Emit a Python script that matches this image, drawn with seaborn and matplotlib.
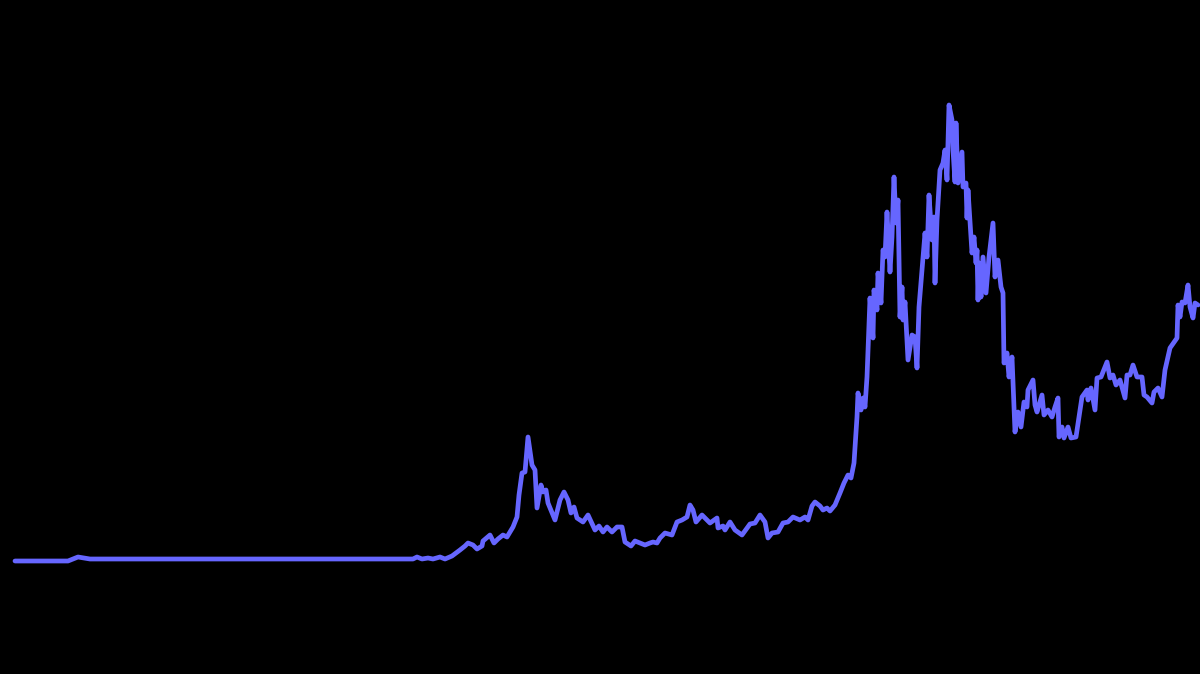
import matplotlib
matplotlib.use('Agg')
import matplotlib.pyplot as plt
import seaborn as sns
import pandas as pd

# time axis (arbitrary steps) and price level
t = [15, 68, 78, 90, 200, 300, 413, 417, 422, 428, 433, 440, 445, 452, 460, 465,
     468, 473, 477, 482, 483, 490, 494, 498, 503, 507, 513, 517, 519, 522, 525, 528,
     532, 535, 537, 541, 543, 546, 548, 555, 560, 564, 568, 571, 574, 577, 583, 588,
     595, 599, 603, 607, 612, 617, 622, 625, 631, 635, 640, 645, 650, 653, 657, 660,
     665, 672, 677, 682, 687, 690, 693, 696, 702, 710, 717, 718, 723, 725, 730, 735,
     742, 750, 755, 760, 765, 768, 772, 778, 783, 788, 793, 800, 805, 808, 812, 815,
     820, 823, 827, 830, 835, 840, 844, 848, 851, 854, 857, 858, 861, 863, 865, 867,
     870, 873, 874, 877, 878, 881, 883, 885, 887, 890, 892, 894, 896, 898, 900, 902,
     903, 905, 908, 912, 915, 917, 919, 922, 925, 927, 929, 932, 934, 935, 937, 940,
     943, 945, 947, 949, 952, 953, 955, 956, 958, 962, 963, 966, 967, 968, 972, 974,
     976, 977, 978, 979, 981, 983, 986, 989, 993, 995, 998, 1001, 1003, 1004, 1007, 1009,
     1012, 1015, 1018, 1021, 1024, 1027, 1028, 1033, 1035, 1037, 1042, 1044, 1048, 1052, 1055, 1058,
     1059, 1062, 1064, 1068, 1071, 1076, 1082, 1087, 1088, 1091, 1095, 1097, 1101, 1107, 1110, 1113,
     1116, 1120, 1125, 1127, 1130, 1133, 1137, 1142, 1144, 1147, 1152, 1154, 1158, 1162, 1165, 1170,
     1177, 1178, 1180, 1182, 1185, 1188, 1190, 1193, 1195, 1198]

price = [0, 0, 4, 2, 2, 2, 2, 4, 2, 3, 2, 4, 2, 5, 11, 15,
         18, 16, 12, 15, 20, 26, 18, 22, 26, 24, 34, 44, 66, 88, 89, 124,
         96, 91, 53, 76, 69, 71, 58, 41, 61, 69, 61, 48, 54, 43, 39, 46,
         31, 35, 29, 34, 29, 34, 34, 19, 15, 20, 18, 16, 18, 19, 18, 23,
         28, 26, 39, 41, 44, 56, 51, 39, 46, 38, 43, 33, 35, 31, 39, 31,
         26, 37, 38, 46, 39, 23, 28, 29, 38, 39, 44, 41, 44, 41, 55, 59,
         55, 51, 53, 50, 56, 68, 78, 86, 83, 98, 144, 168, 151, 163, 154, 184,
         263, 223, 271, 251, 288, 258, 311, 304, 349, 289, 324, 384, 338, 361, 244, 274,
         241, 259, 201, 226, 224, 193, 254, 291, 328, 304, 366, 321, 344, 278, 341, 391,
         398, 411, 381, 456, 441, 411, 379, 438, 378, 409, 374, 378, 343, 371, 308, 324,
         298, 311, 261, 298, 264, 304, 268, 304, 338, 284, 301, 274, 268, 198, 208, 184,
         204, 129, 149, 134, 159, 154, 171, 181, 156, 149, 166, 146, 151, 144, 154, 163,
         124, 134, 123, 134, 123, 124, 164, 171, 161, 173, 151, 183, 184, 199, 183, 186,
         176, 181, 163, 186, 186, 196, 184, 184, 166, 164, 158, 169, 173, 164, 191, 213,
         223, 256, 244, 259, 258, 276, 254, 243, 258, 256]

df = pd.DataFrame({'t': t, 'price': price})

sns.set_style('dark', {'axes.facecolor': 'black', 'figure.facecolor': 'black'})

fig = plt.figure(figsize=(12, 6.74), dpi=100, facecolor='black')
ax = fig.add_axes([0, 0, 1, 1])
sns.lineplot(data=df, x='t', y='price', estimator=None, color='#6666ff',
             linewidth=3.4, ax=ax)

ax.set_xlim(0, 1200)
ax.set_ylim(-113, 561)
ax.set_axis_off()

fig.savefig('out.png', dpi=100, facecolor='black')
